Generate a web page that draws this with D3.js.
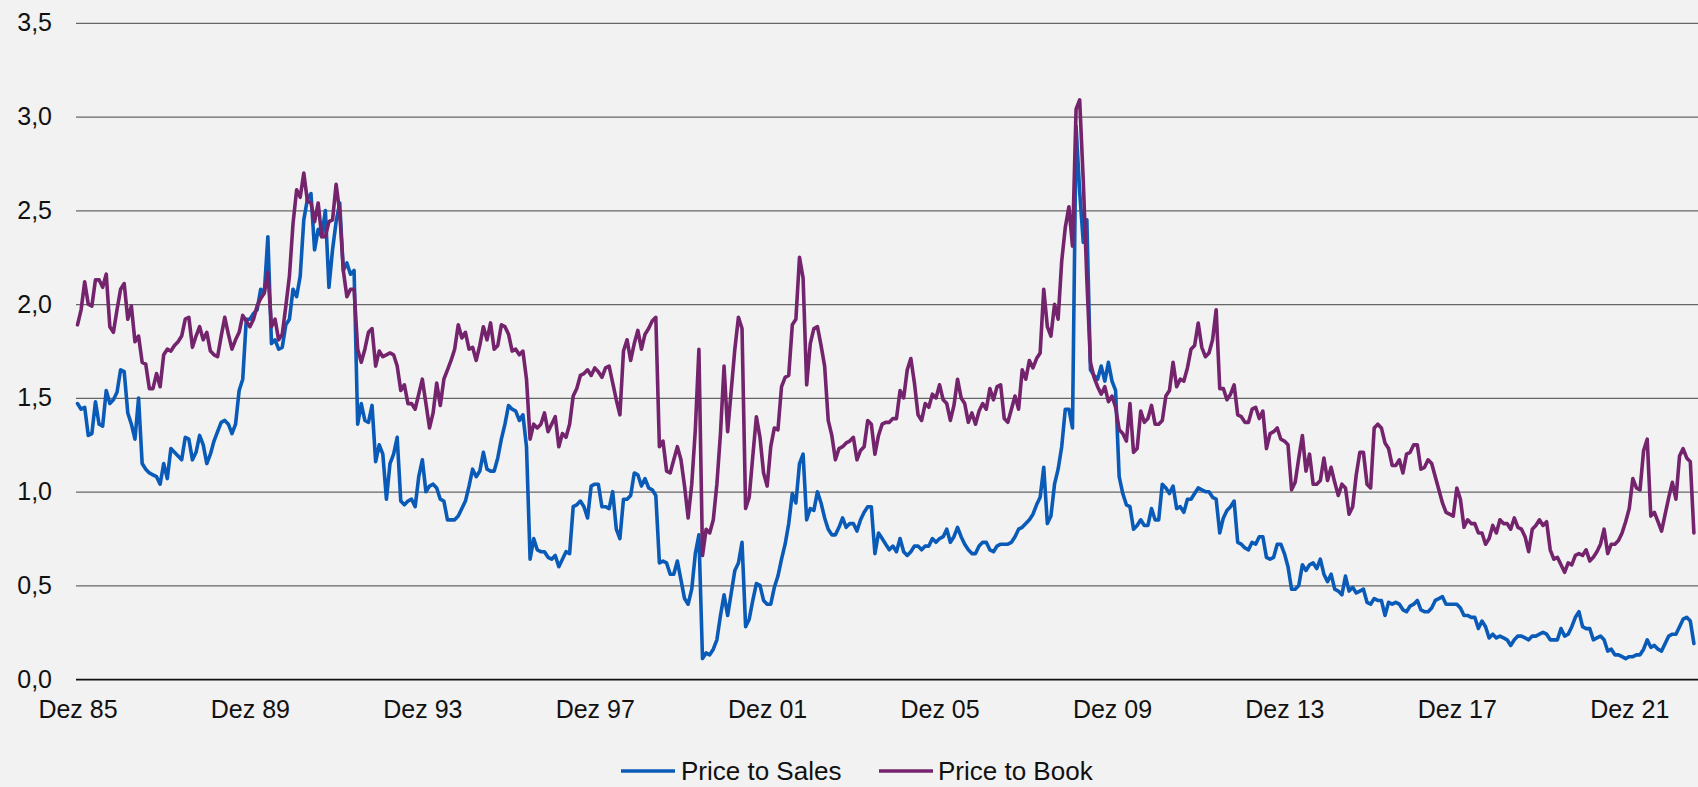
<!DOCTYPE html>
<html lang="de">
<head>
<meta charset="utf-8">
<title>Price to Sales / Price to Book</title>
<script src="https://cdn.jsdelivr.net/npm/d3@7"></script>
<style>
  html, body { margin: 0; padding: 0; background: #f2f2f2; }
  svg { display: block; font-family: "Liberation Sans", Arial, Helvetica, sans-serif; }
</style>
</head>
<body>
<svg id="chart" width="1698" height="787"></svg>
<script>
// Monthly values, first month Dez 1985
const firstMonth = "Dez 85";

const priceToSales = [
  1.47,1.44,1.45,1.30,1.31,1.48,1.36,1.35,1.54,1.47,1.49,1.53,
  1.65,1.64,1.42,1.36,1.28,1.50,1.15,1.12,1.10,1.09,1.08,1.04,
  1.15,1.07,1.23,1.21,1.19,1.17,1.29,1.28,1.17,1.21,1.30,1.25,
  1.15,1.20,1.27,1.32,1.37,1.38,1.36,1.31,1.36,1.54,1.60,1.92,
  1.92,1.95,1.97,2.08,2.06,2.36,1.79,1.81,1.76,1.77,1.89,1.92,
  2.08,2.04,2.15,2.45,2.56,2.59,2.29,2.40,2.36,2.50,2.09,2.29,
  2.44,2.54,2.18,2.22,2.16,2.18,1.36,1.47,1.38,1.37,1.46,1.16,
  1.25,1.20,0.96,1.15,1.20,1.29,0.95,0.93,0.95,0.96,0.92,1.08,
  1.17,1.00,1.03,1.04,1.02,0.96,0.95,0.85,0.85,0.85,0.87,0.91,
  0.95,1.03,1.12,1.08,1.11,1.21,1.12,1.11,1.11,1.18,1.28,1.36,
  1.46,1.44,1.43,1.38,1.41,1.24,0.64,0.75,0.69,0.68,0.68,0.65,
  0.64,0.66,0.60,0.64,0.68,0.67,0.92,0.93,0.95,0.92,0.86,1.03,
  1.04,1.04,0.92,0.92,0.91,1.00,0.80,0.75,0.96,0.96,0.98,1.10,
  1.09,1.03,1.07,1.02,1.01,0.98,0.62,0.63,0.62,0.56,0.56,0.63,
  0.53,0.43,0.40,0.48,0.67,0.77,0.11,0.14,0.13,0.16,0.21,0.34,
  0.45,0.34,0.46,0.58,0.62,0.73,0.28,0.32,0.42,0.51,0.50,0.42,
  0.40,0.40,0.49,0.55,0.64,0.72,0.83,0.99,0.94,1.15,1.20,0.85,
  0.91,0.90,1.00,0.94,0.86,0.80,0.77,0.77,0.81,0.86,0.81,0.83,
  0.83,0.79,0.85,0.89,0.92,0.92,0.67,0.78,0.75,0.72,0.69,0.71,
  0.68,0.75,0.68,0.66,0.68,0.71,0.71,0.69,0.71,0.71,0.75,0.73,
  0.75,0.76,0.80,0.73,0.76,0.81,0.76,0.72,0.69,0.67,0.67,0.71,
  0.73,0.73,0.69,0.68,0.71,0.72,0.72,0.72,0.73,0.76,0.80,0.81,
  0.83,0.85,0.88,0.93,0.97,1.13,0.83,0.87,1.04,1.12,1.24,1.44,
  1.44,1.34,2.95,2.60,2.33,2.45,1.65,1.62,1.60,1.67,1.59,1.69,
  1.59,1.54,1.08,0.99,0.93,0.92,0.80,0.82,0.85,0.82,0.82,0.91,
  0.85,0.85,1.04,1.02,0.99,1.03,0.91,0.92,0.89,0.96,0.96,0.99,
  1.02,1.01,1.00,1.00,0.97,0.96,0.78,0.86,0.90,0.92,0.95,0.73,
  0.72,0.70,0.69,0.73,0.72,0.76,0.76,0.65,0.64,0.65,0.72,0.72,
  0.67,0.60,0.48,0.48,0.50,0.61,0.58,0.61,0.62,0.59,0.64,0.56,
  0.52,0.56,0.48,0.47,0.45,0.55,0.47,0.49,0.46,0.47,0.48,0.41,
  0.40,0.43,0.42,0.42,0.34,0.41,0.40,0.41,0.40,0.37,0.36,0.39,
  0.40,0.42,0.37,0.36,0.36,0.38,0.42,0.43,0.44,0.40,0.40,0.40,
  0.40,0.38,0.34,0.34,0.33,0.33,0.27,0.31,0.28,0.22,0.24,0.22,
  0.23,0.22,0.21,0.18,0.21,0.23,0.23,0.22,0.21,0.23,0.23,0.24,
  0.25,0.24,0.21,0.21,0.21,0.27,0.23,0.24,0.28,0.33,0.36,0.28,
  0.27,0.27,0.21,0.22,0.23,0.21,0.15,0.16,0.13,0.13,0.12,0.11,
  0.12,0.12,0.13,0.13,0.16,0.21,0.17,0.18,0.16,0.15,0.19,0.23,
  0.24,0.24,0.28,0.32,0.33,0.31,0.19
];

const priceToBook = [
  1.89,1.97,2.12,2.00,1.99,2.13,2.13,2.09,2.16,1.88,1.85,1.97,
  2.08,2.11,1.92,1.99,1.80,1.83,1.69,1.68,1.55,1.55,1.63,1.56,
  1.73,1.76,1.75,1.78,1.80,1.83,1.92,1.93,1.77,1.83,1.88,1.81,
  1.85,1.75,1.73,1.72,1.83,1.93,1.84,1.76,1.81,1.85,1.94,1.91,
  1.88,1.92,1.99,2.03,2.06,2.17,1.88,1.92,1.81,1.84,1.99,2.15,
  2.43,2.61,2.57,2.70,2.55,2.54,2.44,2.54,2.36,2.36,2.44,2.45,
  2.64,2.49,2.18,2.04,2.08,2.08,1.76,1.69,1.76,1.85,1.87,1.67,
  1.75,1.72,1.73,1.74,1.73,1.67,1.54,1.57,1.47,1.47,1.44,1.52,
  1.60,1.47,1.34,1.42,1.58,1.46,1.60,1.65,1.70,1.76,1.89,1.82,
  1.85,1.76,1.77,1.70,1.78,1.88,1.81,1.90,1.76,1.78,1.89,1.88,
  1.84,1.75,1.76,1.73,1.75,1.60,1.28,1.36,1.34,1.36,1.42,1.32,
  1.36,1.40,1.24,1.31,1.29,1.36,1.51,1.55,1.62,1.63,1.65,1.62,
  1.66,1.64,1.61,1.66,1.67,1.58,1.49,1.41,1.75,1.81,1.70,1.79,
  1.86,1.76,1.84,1.87,1.91,1.93,1.24,1.27,1.11,1.10,1.17,1.24,
  1.17,1.03,0.86,1.04,1.33,1.76,0.66,0.80,0.78,0.85,1.04,1.31,
  1.67,1.32,1.54,1.76,1.93,1.87,0.91,0.97,1.19,1.40,1.29,1.10,
  1.03,1.24,1.34,1.33,1.56,1.61,1.62,1.89,1.92,2.25,2.14,1.57,
  1.79,1.87,1.88,1.78,1.67,1.38,1.30,1.17,1.23,1.24,1.26,1.27,
  1.29,1.17,1.22,1.24,1.38,1.36,1.20,1.30,1.36,1.37,1.37,1.39,
  1.39,1.54,1.50,1.65,1.71,1.58,1.41,1.38,1.47,1.45,1.52,1.50,
  1.57,1.49,1.47,1.38,1.46,1.60,1.50,1.47,1.37,1.42,1.36,1.43,
  1.47,1.44,1.55,1.49,1.56,1.57,1.39,1.37,1.44,1.51,1.44,1.65,
  1.60,1.70,1.66,1.71,1.74,2.08,1.88,1.83,2.00,1.92,2.23,2.41,
  2.52,2.31,3.04,3.09,2.66,2.13,1.69,1.61,1.56,1.52,1.56,1.48,
  1.51,1.45,1.33,1.31,1.27,1.47,1.21,1.23,1.43,1.37,1.39,1.46,
  1.36,1.36,1.38,1.51,1.54,1.69,1.56,1.60,1.59,1.66,1.76,1.78,
  1.90,1.77,1.72,1.74,1.81,1.97,1.55,1.55,1.49,1.52,1.57,1.41,
  1.40,1.37,1.37,1.44,1.45,1.39,1.43,1.23,1.31,1.32,1.34,1.28,
  1.27,1.25,1.01,1.05,1.18,1.30,1.11,1.20,1.04,1.04,1.06,1.18,
  1.06,1.13,1.05,0.98,1.04,1.02,0.88,0.92,1.09,1.21,1.21,1.04,
  1.02,1.34,1.36,1.34,1.26,1.23,1.14,1.14,1.17,1.10,1.20,1.21,
  1.25,1.25,1.12,1.13,1.17,1.15,1.08,1.01,0.94,0.89,0.88,0.87,
  1.02,0.96,0.81,0.85,0.83,0.83,0.78,0.78,0.72,0.75,0.82,0.78,
  0.85,0.83,0.83,0.80,0.86,0.81,0.80,0.76,0.68,0.80,0.82,0.85,
  0.82,0.84,0.69,0.64,0.65,0.61,0.57,0.62,0.61,0.66,0.67,0.66,
  0.69,0.63,0.65,0.68,0.72,0.80,0.67,0.72,0.72,0.74,0.78,0.84,
  0.91,1.07,1.02,1.01,1.22,1.28,0.87,0.89,0.84,0.79,0.88,0.97,
  1.05,0.96,1.19,1.23,1.18,1.16,0.78
];

// Axis labels every four years (48 months)
const xTickLabels = ["Dez 85","Dez 89","Dez 93","Dez 97","Dez 01","Dez 05","Dez 09","Dez 13","Dez 17","Dez 21"];
const yTickValues = [0, 0.5, 1.0, 1.5, 2.0, 2.5, 3.0, 3.5];

const seriesNames = ["Price to Sales", "Price to Book"];
const seriesColors = ["#0a5bb8", "#74236d"];

const svg = d3.select("#chart");
const W = 1698, H = 787;
const gridLeft = 76, gridRight = 1698;
const monthStep = 3.592;

svg.append("rect").attr("width", W).attr("height", H).attr("fill", "#f2f2f2");

const x = d3.scaleLinear()
  .domain([0, priceToSales.length - 1])
  .range([77.5, 77.5 + (priceToSales.length - 1) * monthStep]);

const y = d3.scaleLinear().domain([0, 3.5]).range([679.2, 22.95]);

const de = d3.formatLocale({ decimal: ",", thousands: ".", grouping: [3], currency: ["", " €"] });
const fmt = de.format(".1f");

// Horizontal gridlines and y labels
const yAxis = svg.append("g")
  .attr("transform", `translate(${gridLeft},0)`)
  .call(d3.axisLeft(y).tickValues(yTickValues).tickFormat(fmt)
        .tickSize(-(gridRight - gridLeft)).tickPadding(24));
yAxis.select(".domain").remove();
yAxis.selectAll(".tick line")
  .attr("stroke", d => d === 0 ? "#111" : "#666")
  .attr("stroke-width", d => d === 0 ? 1.8 : 1.3);
yAxis.selectAll(".tick text")
  .attr("font-size", 25).attr("fill", "#111")
  .attr("font-family", "Liberation Sans, Arial, sans-serif");

// Time axis labels
const xAxis = svg.append("g")
  .attr("transform", `translate(0,${y(0)})`)
  .call(d3.axisBottom(x)
        .tickValues(xTickLabels.map((_, i) => i * 48))
        .tickFormat((d, i) => xTickLabels[i])
        .tickSize(0).tickPadding(21));
xAxis.select(".domain").remove();
xAxis.selectAll(".tick text")
  .attr("font-size", 25).attr("fill", "#111")
  .attr("font-family", "Liberation Sans, Arial, sans-serif");

// Series lines
const line = d3.line().x((d, i) => x(i)).y(d => y(d)).curve(d3.curveLinear);
[priceToSales, priceToBook].forEach((vals, k) => {
  svg.append("path")
    .datum(vals)
    .attr("d", line)
    .attr("fill", "none")
    .attr("stroke", seriesColors[k])
    .attr("stroke-width", 3.6)
    .attr("stroke-linejoin", "round")
    .attr("stroke-linecap", "round");
});

// Legend
const legendItems = [
  { lineX: 621, textX: 681 },
  { lineX: 879, textX: 938 }
];
const legendY = 771;
const legend = svg.append("g");
seriesNames.forEach((name, k) => {
  legend.append("line")
    .attr("x1", legendItems[k].lineX).attr("x2", legendItems[k].lineX + 54)
    .attr("y1", legendY).attr("y2", legendY)
    .attr("stroke", seriesColors[k]).attr("stroke-width", 3.6);
  legend.append("text")
    .attr("x", legendItems[k].textX).attr("y", legendY)
    .attr("dy", "0.36em")
    .attr("font-size", 26).attr("fill", "#111")
    .text(name);
});
</script>
</body>
</html>
